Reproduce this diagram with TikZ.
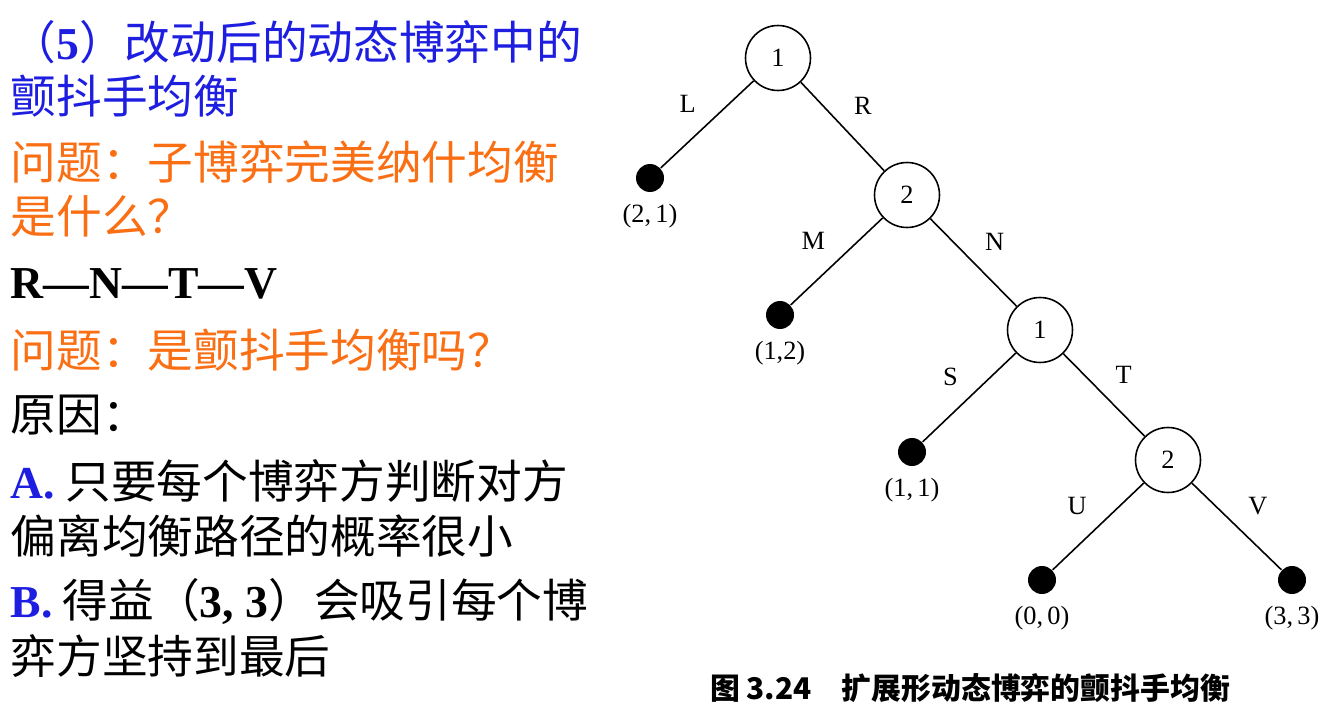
\documentclass[tikz,border=0pt]{standalone}
\usepackage{fontspec}
\setmainfont{Liberation Serif}
\newfontfamily\cjk{Noto Sans CJK SC}
\usetikzlibrary{positioning}
\definecolor{titleblue}{RGB}{30,30,225}
\definecolor{askorange}{RGB}{250,110,20}
\tikzset{
  dec/.style={draw,circle,minimum size=1.3cm,inner sep=0pt,font=\fontsize{15}{18}\selectfont},
  leaf/.style={fill=black,circle,minimum size=0.56cm,inner sep=0pt},
  pay/.style={font=\fontsize{15}{18}\selectfont},
  brlab/.style={font=\fontsize{15}{18}\selectfont},
  txt/.style={anchor=west,inner sep=0pt,font=\fontsize{26}{30}\selectfont\cjk}
}
\begin{document}
\begin{tikzpicture}[x=0.02cm,y=-0.02cm,line width=0.9pt]
\useasboundingbox (0,0) rectangle (1340,706);

% left text
\node[txt,text=titleblue] (t1) at (10,42) {（{\rmfamily\bfseries 5}）改动后的动态博弈中的};
\node[txt,text=titleblue] (t2) at (10,96) {颤抖手均衡};
\node[txt,text=askorange] (t3) at (10,162) {问题：子博弈完美纳什均衡};
\node[txt,text=askorange] (t4) at (10,216) {是什么？};
\node[txt,font=\fontsize{26}{30}\selectfont\bfseries] (t5) at (10,284) {R—N—T—V};
\node[txt,text=askorange] (t6) at (10,350) {问题：是颤抖手均衡吗？};
\node[txt] (t7) at (10,415) {原因：};
\node[txt] (t8) at (10,481) {{\rmfamily\bfseries\color{titleblue}A.} 只要每个博弈方判断对方};
\node[txt] (t9) at (10,536) {偏离均衡路径的概率很小};
\node[txt] (t10) at (10,601) {{\rmfamily\bfseries\color{titleblue}B.} 得益（{\rmfamily\bfseries 3, 3}）会吸引每个博};
\node[txt] (t11) at (10,656) {弈方坚持到最后};

% tree
\node[dec] (A) at (778,58) {1};
\node[dec] (B) at (907,195) {2};
\node[dec] (C) at (1040,330) {1};
\node[dec] (D) at (1168,460) {2};
\node[leaf] (lL) at (650,178) {};
\node[leaf] (lM) at (780,315) {};
\node[leaf] (lS) at (912,452) {};
\node[leaf] (lU) at (1042,580) {};
\node[leaf] (lV) at (1292,580) {};

\draw (A) -- node[brlab,pos=0.5,above left=4pt] {L} (lL);
\draw (A) -- node[brlab,pos=0.5,above right=4pt] {R} (B);
\draw (B) -- node[brlab,pos=0.5,above left=4pt] {M} (lM);
\draw (B) -- node[brlab,pos=0.5,above right=4pt] {N} (C);
\draw (C) -- node[brlab,pos=0.5,above left=4pt] {S} (lS);
\draw (C) -- node[brlab,pos=0.5,above right=4pt] {T} (D);
\draw (D) -- node[brlab,pos=0.5,above left=4pt] {U} (lU);
\draw (D) -- node[brlab,pos=0.5,above right=4pt] {V} (lV);

\node[pay,below=3pt of lL] (pL) {(2,\,1)};
\node[pay,below=3pt of lM] (pM) {(1,2)};
\node[pay,below=3pt of lS] (pS) {(1,\,1)};
\node[pay,below=3pt of lU] (pU) {(0,\,0)};
\node[pay,below=3pt of lV] (pV) {(3,\,3)};

\node[font=\fontsize{17}{20}\selectfont\cjk\bfseries] (cap) at (970,688) {图 3.24\quad 扩展形动态博弈的颤抖手均衡};
\end{tikzpicture}
\end{document}
